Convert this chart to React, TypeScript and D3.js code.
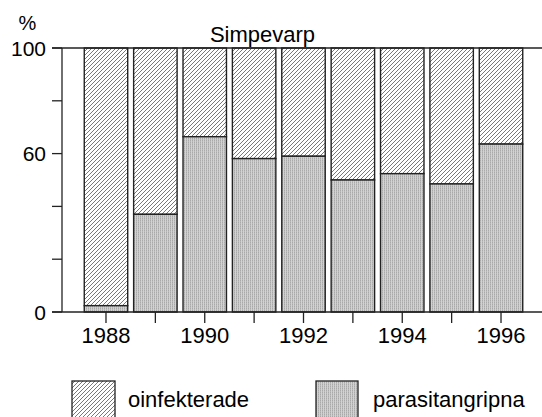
import React from "react";
import * as d3 from "d3";

const years = ["1988", "1989", "1990", "1991", "1992", "1993", "1994", "1995", "1996"];
const parasitangripna = [2.4, 37.0, 66.4, 58.1, 59.0, 50.0, 52.4, 48.5, 63.6];
const yTickValues = [0, 20, 40, 60, 80, 100];
const yLabelValues = [0, 60, 100];
const xLabelYears = ["1988", "1990", "1992", "1994", "1996"];
const seriesNames = ["oinfekterade", "parasitangripna"];
const title = "Simpevarp";

const W = 542;
const H = 417;
const FONT = "Liberation Sans, Arial, sans-serif";

export default function App() {
  const y = d3.scaleLinear().domain([0, 100]).range([312, 48]);
  const x = d3.scaleBand<string>().domain(years).range([81.3, 525.7]).paddingInner(0.12).paddingOuter(0.06);
  const axisX = 62;
  const ink = "#222";

  return (
    <svg width={W} height={H} style={{ position: "absolute", left: 0, top: 0, background: "#fff" }} fontFamily={FONT}>
      <defs>
        <pattern id="hatch" patternUnits="userSpaceOnUse" width="4" height="4">
          <rect width="4" height="4" fill="#fff" />
          <path d="M-1,1 l2,-2 M0,4 l4,-4 M3,5 l2,-2" stroke="#6a6a6a" strokeWidth="0.9" />
        </pattern>
        <pattern id="gray" patternUnits="userSpaceOnUse" width="2" height="2">
          <rect width="2" height="2" fill="#d2d2d2" />
          <rect width="1" height="1" fill="#a9a9a9" />
          <rect x="0" y="1" width="1" height="1" fill="#bababa" />
        </pattern>
      </defs>

      {/* bars */}
      {years.map((yr, i) => {
        const bx = x(yr)!;
        const bw = x.bandwidth();
        const v = parasitangripna[i];
        return (
          <g key={yr}>
            <rect x={bx} y={y(100)} width={bw} height={y(v) - y(100)} fill="url(#hatch)" stroke={ink} strokeWidth={1.4} />
            <rect x={bx} y={y(v)} width={bw} height={y(0) - y(v)} fill="url(#gray)" stroke={ink} strokeWidth={1.4} />
          </g>
        );
      })}

      {/* axes */}
      <line x1={axisX} x2={axisX} y1={y(100)} y2={y(0)} stroke={ink} strokeWidth={1.3} />
      <line x1={52} x2={W} y1={y(100)} y2={y(100)} stroke={ink} strokeWidth={1.3} />
      <line x1={52} x2={W} y1={y(0)} y2={y(0)} stroke={ink} strokeWidth={1.3} />
      {yTickValues.map((t) => (
        <line key={t} x1={52} x2={axisX} y1={y(t)} y2={y(t)} stroke={ink} strokeWidth={1.3} />
      ))}
      {yLabelValues.map((t) => (
        <text key={t} x={46} y={y(t) + 7.5} textAnchor="end" fontSize={21} fill="#000">
          {t}
        </text>
      ))}
      <text x={27.5} y={30} textAnchor="middle" fontSize={20} fill="#000">%</text>

      {years.map((yr) => {
        const cx = x(yr)! + x.bandwidth() / 2;
        return <line key={yr} x1={cx} x2={cx} y1={y(0)} y2={y(0) + 11} stroke={ink} strokeWidth={1.3} />;
      })}
      {xLabelYears.map((yr) => (
        <text key={yr} x={x(yr)! + x.bandwidth() / 2} y={343} textAnchor="middle" fontSize={22} fill="#000">
          {yr}
        </text>
      ))}

      <text x={262.5} y={41.5} textAnchor="middle" fontSize={22} fill="#000">{title}</text>

      {/* legend */}
      <rect x={72} y={381} width={43} height={40} fill="url(#hatch)" stroke={ink} strokeWidth={1.3} />
      <text x={128} y={407} fontSize={22} fill="#000">{seriesNames[0]}</text>
      <rect x={316} y={381} width={42} height={40} fill="url(#gray)" stroke={ink} strokeWidth={1.3} />
      <text x={373} y={407} fontSize={22} fill="#000">{seriesNames[1]}</text>
    </svg>
  );
}
